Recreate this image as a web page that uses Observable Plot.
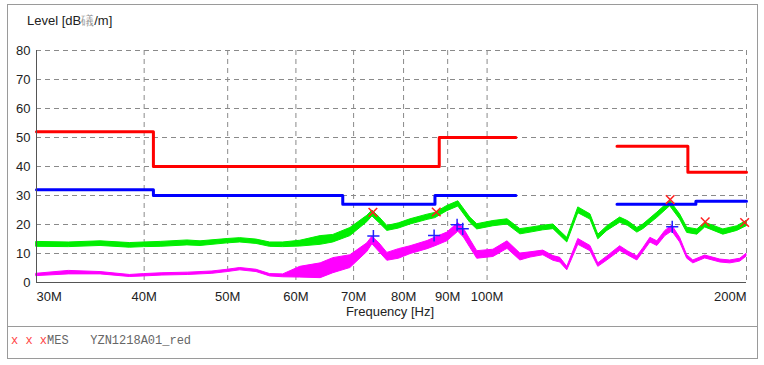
<!DOCTYPE html>
<html><head><meta charset="utf-8">
<script src="https://cdn.jsdelivr.net/npm/d3@7"></script>
<script src="https://cdn.jsdelivr.net/npm/@observablehq/plot@0.6"></script>
<style>
body{margin:0;background:#fff;font-family:"Liberation Sans",Arial,sans-serif;}
#wrap{position:relative;width:764px;height:365px;overflow:hidden;}
.abs{position:absolute;}
</style></head><body>
<div id="wrap">
  <div class="abs" style="left:7px;top:4px;width:749px;height:353px;border:1px solid #9a9a9a;"></div>
  <div class="abs" style="left:7px;top:326px;width:750px;height:0;border-top:1px solid #9a9a9a;"></div>
  <div id="chart" class="abs" style="left:0;top:0;"></div>
  <div class="abs" style="left:27px;top:12px;font-size:13px;color:#222;">Level [dB<span style="color:#999">礒</span>/m]</div>
  <div class="abs" style="left:0;width:780px;top:304px;text-align:center;font-size:13px;color:#222;">Frequency [Hz]</div>
  <div class="abs" style="left:11px;top:334px;font-family:'Liberation Mono',monospace;font-size:12px;color:#666;white-space:pre;"><span style="color:#f44">x x x</span>MES   YZN1218A01_red</div>
</div>
<script>
// Axis ticks
const freqTicks = [30, 40, 50, 60, 70, 80, 90, 100, 200];
const freqTickLabels = ["30M", "40M", "50M", "60M", "70M", "80M", "90M", "100M", "200M"];
const levelTicks = [0, 10, 20, 30, 40, 50, 60, 70, 80];

// Limit lines (MHz, dB) — step-after
const redLimitF   = [30, 41, 88, 108, 141.5, 171, 200];
const redLimitV   = [52, 40, 50, 50, 47, 38, 38];
const redLimitSeg = [1, 1, 1, 1, 2, 2, 2];
const blueLimitF   = [30, 41, 68, 87, 108, 141.5, 174.7, 200];
const blueLimitV   = [32, 30, 27, 30, 30, 27, 28, 28];
const blueLimitSeg = [1, 1, 1, 1, 1, 2, 2, 2];

// Green trace (peak), low/high envelope
const greenF  = [30, 32.7, 35.6, 38.5, 40, 41.8, 44.9, 46.5, 50, 51.7, 54, 56, 58, 60.7, 64.1, 66.3, 69.4, 72.6, 73.6, 75, 76.6, 79, 81.5, 85.3, 87.1, 89.9, 92.6, 95.6, 97.4, 101.7, 105.6, 109.3, 112.3, 116.2, 119.4, 121.6, 123.9, 127.6, 131.8, 134.6, 137.9, 142.7, 145.8, 149.4, 151.8, 157.6, 163.1, 167.5, 170.7, 175.4, 179.1, 188, 195.1, 200];
const greenLo = [12.3, 12.2, 12.6, 12.0, 12.2, 12.3, 12.8, 12.6, 13.5, 13.8, 13.3, 12.3, 12.2, 12.4, 13.0, 13.8, 16.0, 20.8, 22.8, 20.5, 17.8, 18.6, 20.0, 21.6, 22.2, 24.6, 26.2, 20.6, 18.3, 19.4, 20.0, 16.6, 17.2, 18.0, 18.4, 16.1, 13.8, 23.9, 21.7, 14.9, 17.8, 20.6, 19.5, 17.2, 18.4, 22.3, 26.3, 21.7, 17.1, 16.5, 19.0, 16.5, 17.8, 19.4];
const greenHi = [14.0, 13.8, 14.2, 13.6, 13.8, 14.0, 14.5, 14.2, 15.0, 15.3, 14.8, 13.8, 13.8, 14.4, 16.0, 16.4, 18.8, 23.0, 24.8, 22.5, 19.5, 20.4, 21.8, 23.4, 24.0, 26.4, 28.0, 22.4, 20.1, 21.2, 21.8, 18.4, 18.9, 19.6, 20.0, 17.7, 15.4, 25.9, 23.5, 16.5, 19.4, 22.4, 21.1, 18.8, 20.0, 24.1, 28.1, 23.5, 18.9, 18.3, 20.6, 18.3, 19.4, 21.2];

// Magenta trace (average), low/high envelope
const magF  = [30, 32.7, 35.6, 38.5, 40, 42, 45, 48, 50, 51.7, 54, 56, 58, 60.7, 64.1, 66.3, 69.4, 72.6, 73.6, 75, 76.6, 79, 81.5, 85.3, 87.1, 89.9, 92.6, 94, 95.6, 97.4, 101.7, 105.6, 109.3, 112.3, 116.2, 119.4, 121.6, 123.9, 127.6, 131.8, 134.6, 137.9, 142.7, 145.8, 149.4, 151.8, 154.7, 157.6, 161, 164, 167.5, 170.7, 173.5, 179.1, 186.5, 191.5, 196.7, 200];
const magLo = [2.2, 2.8, 2.8, 1.9, 2.1, 2.4, 2.6, 3.0, 3.6, 4.2, 3.6, 2.1, 1.8, 1.7, 1.5, 3.2, 5.0, 10.5, 13.2, 10.5, 7.5, 8.2, 9.8, 11.5, 12.5, 14.2, 17.5, 15.5, 12.0, 8.2, 8.8, 11.6, 7.6, 8.6, 9.4, 7.5, 6.9, 4.2, 13.0, 10.8, 5.4, 7.6, 10.9, 9.3, 7.6, 10.4, 13.8, 12.6, 16.0, 17.6, 13.8, 8.2, 6.6, 8.3, 6.9, 6.6, 7.2, 8.9];
const magHi = [3.0, 4.0, 3.6, 2.6, 2.9, 3.2, 3.4, 3.8, 4.4, 5.0, 4.4, 2.9, 2.8, 5.4, 6.6, 8.4, 9.4, 13.5, 15.8, 13.5, 10.2, 11.5, 12.5, 14.3, 15.5, 17.2, 20.5, 18.5, 14.8, 10.8, 11.3, 14.2, 10.0, 10.4, 11.0, 9.1, 8.5, 5.4, 15.0, 12.6, 6.6, 9.0, 12.5, 10.7, 9.0, 11.8, 15.4, 14.2, 17.8, 19.6, 15.4, 9.4, 7.6, 9.3, 7.9, 7.6, 8.2, 9.9];

// Markers
const redMarkF = [73.7, 87.3, 163.1, 179.1, 199];
const redMarkV = [24.2, 24.3, 28.6, 20.9, 20.7];
const blueMarkF = [73.8, 86.8, 92.3, 93.7, 164];
const blueMarkV = [16.0, 16.2, 19.9, 18.5, 19.2];

const zip = (xs, ys, extra) => xs.map((x, i) => Object.assign({f: x, v: ys[i]}, extra ? extra(i) : {}));
const redLimit = zip(redLimitF, redLimitV, i => ({s: redLimitSeg[i]}));
const blueLimit = zip(blueLimitF, blueLimitV, i => ({s: blueLimitSeg[i]}));
const green = greenF.map((f, i) => ({f, lo: greenLo[i], hi: greenHi[i]}));
const mag = magF.map((f, i) => ({f, lo: magLo[i], hi: magHi[i]}));
const redMarks = zip(redMarkF, redMarkV);
const blueMarks = zip(blueMarkF, blueMarkV);
const xt = freqTicks.map((f, i) => ({f, label: freqTickLabels[i]}));

const grid = {stroke: "#8a8a8a", strokeDasharray: "5,4", strokeWidth: 1};

const chart = Plot.plot({
  width: 764,
  height: 300,
  marginLeft: 36,
  marginRight: 18,
  marginTop: 50,
  marginBottom: 18,
  style: {background: "transparent", fontFamily: "'Liberation Sans', Arial, sans-serif", fontSize: "13px", overflow: "visible"},
  x: {type: "log", domain: [30, 200], axis: null},
  y: {domain: [0, 80], axis: null},
  marks: [
    Plot.ruleX(freqTicks.slice(1), {...grid}),
    Plot.ruleY(levelTicks.slice(1), {...grid}),
    Plot.areaY(mag, {x: "f", y1: "lo", y2: "hi", fill: "#ff00ff", stroke: "#ff00ff", strokeWidth: 1, curve: "linear"}),
    Plot.areaY(green, {x: "f", y1: "lo", y2: "hi", fill: "#00ee00", stroke: "#00ee00", strokeWidth: 1, curve: "linear"}),
    Plot.line(redLimit, {x: "f", y: "v", z: "s", stroke: "#ff0000", strokeWidth: 3, curve: "step-after"}),
    Plot.line(blueLimit, {x: "f", y: "v", z: "s", stroke: "#0000ff", strokeWidth: 3, curve: "step-after"}),
    Plot.dot(redMarks, {x: "f", y: "v", symbol: "times", r: 4, stroke: "#ff2020", strokeWidth: 1.5}),
    Plot.dot(blueMarks, {x: "f", y: "v", symbol: "plus", r: 4, stroke: "#2020ff", strokeWidth: 1.5}),
    Plot.ruleX([30], {stroke: "#555", strokeWidth: 1}),
    Plot.ruleY([0], {stroke: "#555", strokeWidth: 1}),
    Plot.text(levelTicks, {x: 30, y: d => d, text: d => String(d), dx: -6, textAnchor: "end", fill: "#222", fontSize: 13}),
    Plot.text(xt.slice(0, 1), {x: "f", y: 0, text: "label", dy: 14, textAnchor: "start", fill: "#222", fontSize: 13}),
    Plot.text(xt.slice(1, -1), {x: "f", y: 0, text: "label", dy: 14, textAnchor: "middle", fill: "#222", fontSize: 13}),
    Plot.text(xt.slice(-1), {x: "f", y: 0, text: "label", dy: 14, textAnchor: "end", fill: "#222", fontSize: 13})
  ]
});
document.getElementById("chart").appendChild(chart);
</script>
</body></html>
